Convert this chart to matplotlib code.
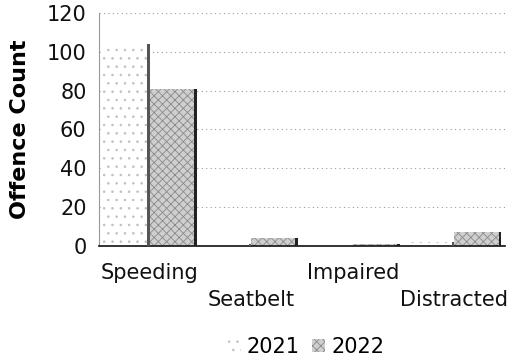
import numpy as np
import matplotlib
matplotlib.use("Agg")
import matplotlib.pyplot as plt

categories = ["Speeding", "Seatbelt", "Impaired", "Distracted"]
series_names = ["2021", "2022"]
values_2021 = [104, 1, 0, 2]
values_2022 = [81, 4, 1, 7]

plt.rcParams["font.family"] = ["DejaVu Sans"]
plt.rcParams["hatch.linewidth"] = 0.6

fig = plt.figure(figsize=(5.24, 3.6), dpi=100)
ax = fig.add_axes([0.189, 0.317, 0.775, 0.647])

x = np.arange(len(categories))
w = 0.46

b1 = ax.bar(x - w / 2, values_2021, width=w, color="white",
            hatch="..", edgecolor="#c0c0c0", linewidth=0, label=series_names[0], zorder=2)
b2 = ax.bar(x + w / 2, values_2022, width=w, color="#cfcfcf",
            hatch="xxxx", edgecolor="#8a8a8a", linewidth=0, label=series_names[1], zorder=2)

# dark side faces to fake the 3D look
side = 0.025
ax.bar(x - side / 2, values_2021, width=side, color="#555555", linewidth=0, zorder=3)
ax.bar(x + w - side / 2, values_2022, width=side, color="#222222", linewidth=0, zorder=3)

ax.set_xlim(-0.5, 3.5)
ax.set_ylim(0, 120)
ax.set_yticks([0, 20, 40, 60, 80, 100, 120])
ax.yaxis.grid(True, linestyle=(0, (1, 3)), color="#9a9a9a", linewidth=0.8, zorder=0)
ax.set_axisbelow(True)

ax.set_xticks(x)
ax.set_xticklabels([c if i % 2 == 0 else "\n" + c for i, c in enumerate(categories)],
                   linespacing=1.45)
ax.tick_params(axis="both", length=0, labelsize=15, colors="#111111")
ax.tick_params(axis="x", pad=12)
ax.tick_params(axis="y", pad=9)

for s in ["top", "right"]:
    ax.spines[s].set_visible(False)
ax.spines["left"].set_color("#999999")
ax.spines["bottom"].set_color("#111111")
ax.spines["bottom"].set_linewidth(1.2)

ax.set_ylabel("Offence Count", fontsize=16, fontweight="bold")
ax.yaxis.set_label_coords(-0.17, 0.5)

leg = ax.legend(loc="center", bbox_to_anchor=(0.51, -0.435), ncol=2, frameon=False,
                fontsize=15, handlelength=0.6, handleheight=0.6, handletextpad=0.3,
                columnspacing=0.6)

fig.savefig("out.png", dpi=100)
